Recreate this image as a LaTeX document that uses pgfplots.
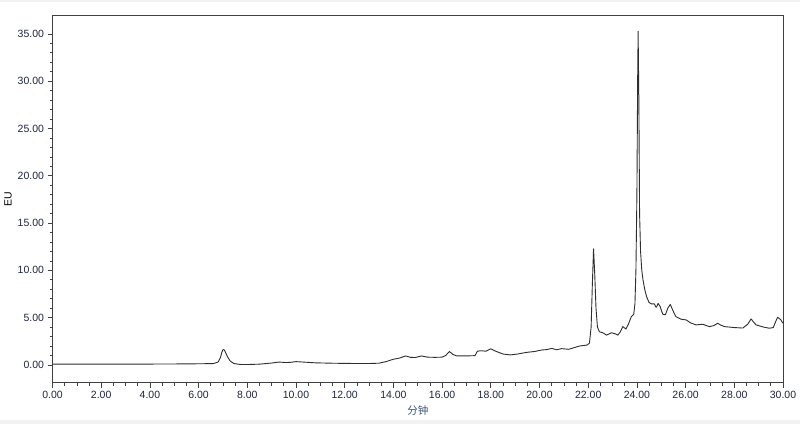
\documentclass[border=0pt]{standalone}
\usepackage{fontspec}
\setmainfont{Liberation Sans}
\newfontfamily\cjk{Noto Sans CJK SC}
\usepackage{pgfplots}
\pgfplotsset{compat=1.18}
\definecolor{ticktxt}{RGB}{30,38,64}
\definecolor{xlab}{RGB}{60,80,120}
\definecolor{strip}{RGB}{242,242,242}
\begin{document}
\begin{tikzpicture}[x=1pt,y=1pt]
\fill[white] (0,0) rectangle (800,424);
\fill[strip] (0,0) rectangle (800,4);
\fill[strip] (0,421.5) rectangle (800,424);
\useasboundingbox (0,0) rectangle (800,424);
\begin{axis}[
  at={(52.5pt,41.5pt)}, anchor=south west,
  scale only axis, width=730.5pt, height=367.5pt,
  xmin=0, xmax=30, ymin=-1.86, ymax=37.0,
  xtick={0,2,...,30}, minor x tick num=3,
  ytick={0,5,...,35}, minor y tick num=4,
  tick align=outside, tick pos=left,
  major tick length=5pt, minor tick length=3pt,
  axis line style={black!75, line width=0.8pt},
  every tick/.style={black!75, line width=0.7pt},
  /pgf/number format/assume math mode=true,
  tick label style={font=\fontsize{10.5}{12}\selectfont, text=ticktxt},
  xticklabel style={/pgf/number format/.cd, fixed, fixed zerofill, precision=2},
  yticklabel style={/pgf/number format/.cd, fixed, fixed zerofill, precision=2},
  scaled ticks=false,
  xlabel={\cjk 分钟},
  ylabel={EU},
  every axis x label/.style={at={(axis description cs:0.5,-0.0776)}, anchor=center, font=\fontsize{10.5}{12}\selectfont, text=xlab},
  every axis y label/.style={at={(axis description cs:-0.0609,0.5)}, rotate=90, anchor=center, font=\fontsize{10.5}{12}\selectfont, text=black},
  clip=true,
]
\addplot[black!82, line width=0.9pt, line join=round] coordinates {
(0,0.08) (1,0.08) (2,0.08) (3,0.08) (4,0.09) (5,0.1) (6,0.12) (6.6,0.14)
(6.8,0.3) (6.9,0.8) (6.95,1.3) (7.0,1.62) (7.05,1.6) (7.1,1.35) (7.2,0.8)
(7.3,0.4) (7.45,0.15) (7.7,0.05) (8.0,0.04) (8.5,0.08) (9.0,0.2) (9.3,0.3)
(9.6,0.25) (9.8,0.28) (10.0,0.35) (10.3,0.3) (10.8,0.22) (11.5,0.18)
(12.0,0.16) (12.5,0.15) (13.0,0.15) (13.4,0.18) (13.7,0.35) (14.0,0.6)
(14.25,0.72) (14.5,0.95) (14.7,0.8) (14.9,0.78) (15.15,0.95) (15.4,0.82)
(15.7,0.8) (16.0,0.82) (16.15,1.0) (16.3,1.42) (16.45,1.1) (16.6,0.95)
(17.0,0.95) (17.35,0.98) (17.45,1.45) (17.6,1.5) (17.8,1.45) (18.0,1.7)
(18.2,1.45) (18.5,1.15) (18.8,1.06) (19.1,1.15) (19.45,1.32) (19.8,1.42)
(20.1,1.58) (20.3,1.62) (20.5,1.75) (20.7,1.6) (20.9,1.72) (21.2,1.65)
(21.45,1.85) (21.65,2.0) (21.95,2.1) (22.05,2.3) (22.12,4.0) (22.17,8.5)
(22.22,12.27) (22.27,9.5) (22.32,6.0) (22.38,4.0) (22.46,3.5) (22.6,3.4)
(22.75,3.15) (22.95,3.4) (23.1,3.3) (23.22,3.15) (23.32,3.5) (23.42,4.05)
(23.55,3.8) (23.65,4.3) (23.77,5.1) (23.87,5.35) (23.92,6.5) (23.96,10)
(24.0,18) (24.03,30) (24.05,35.3) (24.08,28) (24.11,16) (24.15,12)
(24.2,10) (24.25,9) (24.32,8) (24.4,7.2) (24.5,6.6) (24.6,6.45)
(24.72,6.45) (24.77,6.15) (24.8,6.1) (24.87,6.5) (24.95,6.2) (25.06,5.36)
(25.17,5.3) (25.27,6.0) (25.37,6.4) (25.47,5.8) (25.6,5.1) (25.82,4.83)
(26.02,4.76) (26.2,4.45) (26.43,4.23) (26.7,4.3) (26.98,4.05) (27.15,4.15)
(27.32,4.4) (27.45,4.2) (27.6,4.05) (28.0,3.95) (28.35,3.9) (28.55,4.3)
(28.69,4.86) (28.8,4.5) (28.9,4.23) (29.2,4.0) (29.44,3.88) (29.6,3.95)
(29.7,4.6) (29.78,5.04) (29.9,4.8) (30.0,4.4)
};
\end{axis}
\end{tikzpicture}
\end{document}
